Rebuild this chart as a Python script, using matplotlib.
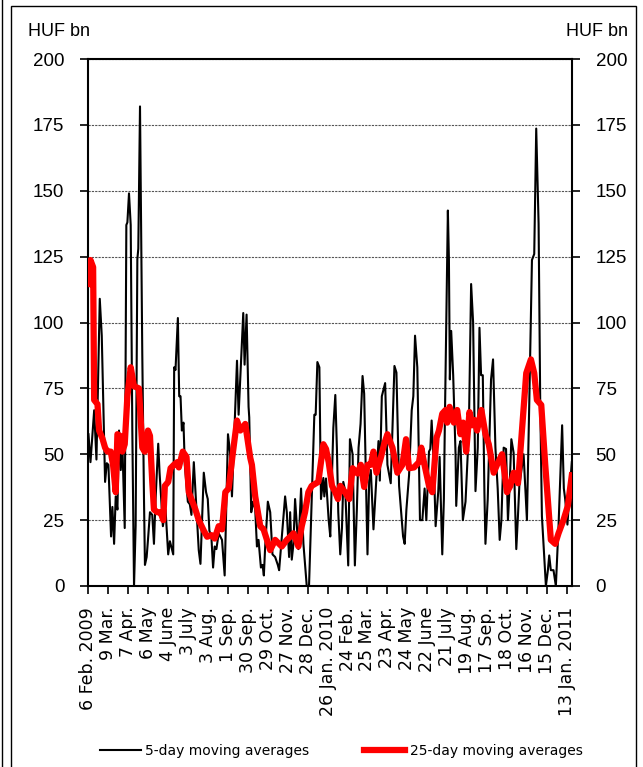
import matplotlib
matplotlib.use("Agg")
import matplotlib.pyplot as plt
from matplotlib.patches import Rectangle
from matplotlib.lines import Line2D

# ---- data (x = trading-day index from 6 Feb. 2009) ----
ma5_x = [0, 2.1, 6, 8.4, 11.9, 14, 17.5, 19.3, 21, 23.8, 25.2, 27, 28.7, 30.5, 32.2, 34, 35.7, 38.2,
         39.9, 41, 42.7, 44.5, 46.2, 48, 49.7, 51.5, 52.5, 54.3, 56.7, 58.5, 59.5, 61.3, 62.7, 64.8,
         67.2, 69, 70.7, 73.5, 74.9, 78.4, 81.2, 84, 85.8, 89.3, 90.3, 91.7, 94.2, 95.6, 97, 98.4,
         100.1, 101.5, 104.7, 106.8, 108.5, 111, 116.2, 118, 121.5, 123.9, 125.7, 127.4, 129.5, 131.3,
         133, 134.8, 137.2, 140.7, 143.5, 147, 149.1, 151.2, 156.5, 158.2, 163.1, 164.5, 166.6, 168.7,
         169.4, 171.5, 173.3, 175.7, 177.5, 179.2, 181.7, 183.4, 184.8, 186.2, 189, 191.5, 193.9,
         196.7, 199.5, 200.9, 207.2, 209, 211.4, 212.5, 214.2, 216, 217.7, 221.2, 224, 226.5, 230,
         232.4, 235.2, 238, 239.4, 241.2, 243.3, 245, 247.5, 248.5,
         250.3, 253.1, 254.8, 258, 260.1, 261.8, 263.2, 265.3, 267.1, 268.5, 270.6, 273.7, 275.5,
         278.3, 280.7, 282.8, 284.6, 286.7, 288.8, 290.5, 294, 295.8, 297.5, 300.3, 305.6, 307, 309.1,
         312.6, 315, 318.5, 322.4, 324.5, 327.3, 331.5, 333.2, 335, 337.8, 340.6, 342.3, 344.1, 346.5,
         349.3, 351.8, 354.2, 356, 358.8, 360.2, 361.6, 364, 365.8, 368.6, 370, 372.8, 374.5, 375.6,
         378.7, 379.8, 380.8, 382.2, 384.3, 386.8, 387.5, 390.3, 392, 394.5, 397.3, 400.8, 403.2,
         405.3, 407.8, 410.2, 412, 413.7, 415.5, 417.2, 418.3, 420.7, 424.2, 426.3, 428.8, 431.2,
         433.3, 435.1, 437.5, 440, 442, 443.8, 445.6, 448, 450.8, 452.6, 454, 458.5, 462, 464.5,
         467.3, 469.7, 471.8, 474.3, 476, 477.8, 482, 484.1, 485.5, 487.2, 490, 492.5, 495.3, 499.1,
         500.9, 502.3, 504.7, 506.8, 509.3]
ma5_y = [57.6, 47, 66.7, 48, 109, 95, 39.5, 46.6, 46, 18.8, 30, 16, 34, 29, 59, 44, 54, 22,
         137, 138, 149, 137, 59, 0, 23, 124, 128, 182, 88, 33, 8, 11, 17.5, 28,
         27, 16, 33, 54, 43, 22.7, 29, 12, 17, 12, 83, 82, 101.7, 72, 72, 59,
         62, 46, 32, 31, 27, 47, 13.6, 8.4, 43, 35.6, 33, 21, 18.7, 7,
         15, 14, 20, 17.5, 4, 57.6, 51, 34, 85.5, 65, 103.6, 84, 103, 68,
         64, 28, 32, 29, 15, 17.5, 7, 8, 4, 15, 32, 28, 12,
         11, 8, 6, 34, 28, 11, 28, 10, 16, 33, 14, 37, 16, 0,
         0, 33, 65, 65, 85, 83, 33, 41, 34,
         40.8, 25, 18.8, 60, 72.5, 52, 28, 12, 22, 39.5, 36, 7.8, 55.7,
         50, 7.8, 29, 52.5, 61.5, 79.7, 73, 12, 40, 44, 21.5, 55, 40, 72,
         77, 46, 39, 83.5, 81, 38, 18.8, 16, 29, 42, 66.7, 72, 95, 83,
         25, 25, 37, 25, 51, 52, 62.8, 45, 22.7, 36, 49, 12, 33, 64,
         142.5, 124, 78.4, 96.8, 80, 50, 30.4, 52.5, 55, 25, 32, 59, 114.6,
         100, 36, 52.5, 98, 80, 80, 35.6, 16, 33, 78.4, 86, 52.5, 37,
         17.5, 25, 52.5, 52, 25, 38, 55.7, 50.5, 14, 27, 38, 50, 25, 70,
         123.7, 126, 173.6, 137.5, 70, 26.5, 0, 6, 11.6, 6, 6, 0, 22.7, 61,
         37, 33, 23.3, 35, 47]

ma25_x = [0, 2.1, 4.9, 6, 9.5, 11.2, 14.7, 17.5, 20, 23.5, 25.9, 28.7, 30.5, 33.3, 35.7, 38.2, 41,
          44.5, 48, 53.2, 56.7, 59.2, 62.7, 64.8, 67.2, 69, 72.5, 76, 78.8, 80.5, 84, 86.5, 90, 93.5,
          95.2, 99.4, 103.3, 105.7, 108.5, 112.7, 116.2, 121.5, 125, 129.5, 133, 137.2, 140.7, 144.2,
          147.7, 152.3, 156.5, 160, 165.2, 170.5, 172.2, 175.7, 181, 184.5, 188, 191.5, 196.7, 203.7,
          209, 212.5, 216, 221.2, 224.7, 228.2, 231.7, 235.2, 242.2, 247.5, 250.3, 253.1, 256.6,
          260.1, 262.9, 265.3, 269.5, 274.8, 278.3, 283.5, 287, 290.5, 294, 297.5, 300.3, 303.5, 308,
          311.5, 315, 320.3, 325.5, 330.8, 334.6, 337.8, 343, 348.3, 350.7, 353.5, 358.8, 362.3,
          366.8, 369.3, 372.8, 376.3, 378, 380.5, 385, 388.5, 392, 394.8, 398, 401.5, 404.3, 406.7,
          409.5, 414, 418.3, 421.8, 427, 430.5, 435.8, 441, 444.5, 448, 452.6, 456.8, 461.3, 466.2,
          469.7, 472.5, 477.1, 481.3, 487.2, 491.8, 495.3, 500.5, 505.1, 509.3]
ma25_y = [114.6, 123.7, 121, 70.6, 69, 59, 56, 52.5, 51, 51, 46, 35.6, 57.6, 57, 51, 53.8, 72,
          83, 75.8, 75, 52.5, 51, 59, 57, 39.5, 29, 28, 28, 25, 38, 39.5, 44.7, 46, 47,
          45, 51, 49, 35.6, 33, 29, 25, 21, 18.7, 19.3, 18, 22.7, 21.5, 35.6,
          37, 51, 62.8, 59, 61.5, 48.6, 46, 34, 22.7, 21.5, 17.5, 13.6, 17.5, 15,
          17.5, 18.7, 20, 15, 22.7, 28, 35.6, 38, 39.5, 53.8, 52, 47, 38,
          35.6, 33, 38, 36, 33, 44.7, 42.7, 46, 37.6, 46, 46, 51, 43, 48.6,
          53.8, 57.6, 52.5, 43, 46, 55.7, 44.7, 45, 47, 52.5, 47, 38, 35.6,
          56.3, 59, 65.4, 66.8, 62, 68, 62, 66.8, 57.6, 62, 51, 66, 61, 63,
          59, 66.8, 57.6, 53.8, 43, 46, 50, 35.6, 38, 43, 39, 59, 80.8, 86,
          80.8, 70.6, 68.7, 46, 17.5, 16, 20, 25, 30.4, 42]

tick_pos = [0, 21, 42, 63, 84, 105, 126, 147, 168, 189, 210, 231, 252, 273, 294, 315, 336,
            357, 378, 399, 420, 441, 462, 483, 504]
tick_labels = ["6 Feb. 2009", "9 Mar.", "7 Apr.", "6 May", "4 June", "3 July", "3 Aug.",
               "1 Sep.", "30 Sep.", "29 Oct.", "27 Nov.", "28 Dec.", "26 Jan. 2010", "24 Feb.",
               "25 Mar.", "23 Apr.", "24 May", "22 June", "21 July", "19 Aug.", "17 Sep.",
               "18 Oct.", "16 Nov.", "15 Dec.", "13 Jan. 2011"]
y_ticks = [0, 25, 50, 75, 100, 125, 150, 175, 200]
series_names = ["5-day moving averages", "25-day moving averages"]
unit = "HUF bn"

W, H = 643, 767
fig = plt.figure(figsize=(W / 100, H / 100), dpi=100)
sans = ["DejaVu Sans"]
arial = ["Liberation Sans", "DejaVu Sans"]

# outer frame
fig.add_artist(Rectangle((11 / W, -0.01), (636 - 11) / W, (H - 6) / H + 0.01,
                         transform=fig.transFigure, fill=False, edgecolor="black", lw=1.0))
fig.add_artist(Line2D([2 / W, 2 / W], [0, 1], transform=fig.transFigure, color="black", lw=1.0))

ax = fig.add_axes([88 / W, 1 - 586 / H, (572 - 88) / W, (586 - 59) / H])
ax.plot(ma5_x, ma5_y, color="black", lw=1.5, label=series_names[0], zorder=3)
ax.plot(ma25_x, ma25_y, color="#ff0000", lw=4.5, label=series_names[1], zorder=4,
        solid_joinstyle="round")

ax.set_xlim(-0.5, 509.5)
ax.set_ylim(0, 200)
ax.set_yticks(y_ticks)
ax.set_xticks(tick_pos)
ax.set_xticklabels(tick_labels, rotation=90, family=sans, fontsize=12.5)
ax.set_yticklabels([str(v) for v in y_ticks], family=arial, fontsize=13.5)
ax.tick_params(axis="y", direction="out", length=6, width=1.2, pad=11,
               left=True, right=True, labelleft=True, labelright=True)
ax.tick_params(axis="x", direction="out", length=6, width=1.2, pad=9)
ax.yaxis.grid(True, linestyle=(0, (2, 1)), color="#555555", lw=0.8)
for s in ax.spines.values():
    s.set_linewidth(1.5)
    s.set_color("black")

fig.text(28 / W, 1 - 31 / H, unit, ha="left", va="center", family=arial, fontsize=13)
fig.text(628 / W, 1 - 31 / H, unit, ha="right", va="center", family=arial, fontsize=13)

leg = fig.legend(loc="center", bbox_to_anchor=(341 / W, 1 - 751 / H), ncol=2, frameon=False,
                 prop={"family": sans, "size": 10}, handlelength=3.0, handletextpad=0.3,
                 columnspacing=3.9)

fig.savefig("out.png", dpi=100)
